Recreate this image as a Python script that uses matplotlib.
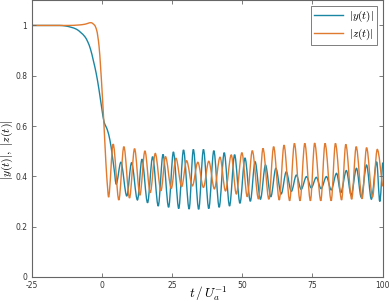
import matplotlib
matplotlib.use("Agg")
import matplotlib.pyplot as plt
from matplotlib.path import Path
from matplotlib.patches import PathPatch
from matplotlib.lines import Line2D
import numpy as np

# |y(t)| : pre-quench decay, then oscillation extrema
y_t = [-25, -15, -13, -11, -9, -7.5, -6, -5, -4, -3, -2, -1, 0, 0.8, 2.0, 2.9, 3.8, 4.6, 5.1,
       6.8, 8.9, 10.6, 12.7, 14.3, 16.3, 18.1, 20.1, 21.8, 23.8, 25.5, 27.4, 29.1, 31.1,
       32.6, 34.5, 36.2, 38.1, 39.9, 41.8, 43.6, 45.5, 47.3, 49.2, 51.0, 52.9, 54.6, 56.5,
       58.3, 60.2, 62.0, 63.9, 65.7, 67.5, 69.3, 71.0, 72.9, 74.6, 76.4, 78.1, 80.0, 81.7,
       83.6, 85.1, 87.1, 88.8, 90.7, 92.4, 94.3, 96.0, 97.9, 99.0, 100]
y_v = [1.0, 1.0, 0.998, 0.993, 0.985, 0.972, 0.955, 0.935, 0.905, 0.86, 0.81, 0.745, 0.67,
       0.617, 0.584, 0.544, 0.478, 0.41, 0.368,
       0.456, 0.322, 0.454, 0.306, 0.468, 0.295, 0.478, 0.282, 0.487, 0.277, 0.497, 0.272,
       0.505, 0.270, 0.507, 0.269, 0.507, 0.272, 0.502, 0.277, 0.494, 0.282, 0.486, 0.293,
       0.473, 0.301, 0.458, 0.309, 0.445, 0.319, 0.432, 0.330, 0.418, 0.340, 0.405, 0.348,
       0.399, 0.354, 0.396, 0.351, 0.399, 0.346, 0.412, 0.335, 0.423, 0.325, 0.432, 0.317,
       0.445, 0.309, 0.458, 0.30, 0.455]

# |z(t)|
z_t = [-25, -12, -8, -6, -3.9, -2.5, -1.8, -1.0, -0.4, 0.2, 0.7, 1.2, 1.7, 2.1, 2.4,
       4.05, 6.07, 7.86, 9.88, 11.67, 13.57, 15.36, 17.26, 19.05, 21.07, 22.7, 24.76, 26.4,
       28.45, 30.2, 32.26, 34.2, 36.2, 38.1, 40.1, 42.1, 44.05, 46.1, 47.9, 49.9, 51.8,
       53.6, 55.8, 57.4, 59.5, 61.2, 63.2, 64.9, 66.9, 68.6, 70.6, 72.3, 74.3, 75.8, 78.0,
       79.5, 81.7, 83.2, 85.4, 86.9, 89.0, 90.6, 92.7, 94.3, 96.4, 98.1, 100]
z_v = [1.0, 1.0, 1.002, 1.005, 1.011, 1.0, 0.98, 0.92, 0.83, 0.72, 0.62, 0.51, 0.41, 0.35,
       0.317,
       0.528, 0.306, 0.518, 0.314, 0.510, 0.325, 0.501, 0.335, 0.491, 0.343, 0.478, 0.352,
       0.472, 0.359, 0.462, 0.362, 0.456, 0.356, 0.460, 0.350, 0.476, 0.342, 0.485, 0.330,
       0.494, 0.319, 0.502, 0.310, 0.511, 0.309, 0.518, 0.306, 0.524, 0.303, 0.531, 0.303,
       0.531, 0.303, 0.532, 0.303, 0.531, 0.303, 0.531, 0.306, 0.527, 0.309, 0.518, 0.311,
       0.514, 0.317, 0.507, 0.36]

x_ticks = [-25, 0, 25, 50, 75, 100]
y_ticks = [0, 0.2, 0.4, 0.6, 0.8, 1]
y_tick_labels = ["0", "0.2", "0.4", "0.6", "0.8", "1"]


def smooth_path(xs, ys):
    """Bezier path through the points with monotone (Fritsch-Carlson) tangents."""
    x = np.asarray(xs, float)
    y = np.asarray(ys, float)
    h = np.diff(x)
    d = np.diff(y) / h
    m = np.zeros_like(y)
    m[0], m[-1] = d[0], d[-1]
    for i in range(1, len(x) - 1):
        if d[i - 1] * d[i] <= 0:
            m[i] = 0.0
        else:
            w1 = 2 * h[i] + h[i - 1]
            w2 = h[i] + 2 * h[i - 1]
            m[i] = (w1 + w2) / (w1 / d[i - 1] + w2 / d[i])
    verts = [(x[0], y[0])]
    codes = [Path.MOVETO]
    for i in range(len(x) - 1):
        verts += [(x[i] + h[i] / 3, y[i] + m[i] * h[i] / 3),
                  (x[i + 1] - h[i] / 3, y[i + 1] - m[i + 1] * h[i] / 3),
                  (x[i + 1], y[i + 1])]
        codes += [Path.CURVE4] * 3
    return Path(verts, codes)


plt.rcParams['mathtext.fontset'] = 'cm'

fig = plt.figure(figsize=(3.9, 3.07), dpi=100)
ax = fig.add_axes([0.081, 0.098, 0.9, 0.901])

c_y = '#1a86a3'
c_z = '#e07a2e'
ax.add_patch(PathPatch(smooth_path(y_t, y_v), facecolor='none', edgecolor=c_y, lw=1.0))
ax.add_patch(PathPatch(smooth_path(z_t, z_v), facecolor='none', edgecolor=c_z, lw=1.0))

ax.set_xlim(-25, 100)
ax.set_ylim(0, 1.1)
ax.set_xticks(x_ticks)
ax.set_xticklabels([str(v) for v in x_ticks])
ax.set_yticks(y_ticks)
ax.set_yticklabels(y_tick_labels)

axc = '#666666'
for s in ax.spines.values():
    s.set_color(axc)
    s.set_linewidth(0.8)
ax.tick_params(direction='in', length=3, width=0.6, colors=axc, labelcolor='#333333',
               labelsize=5.5, top=True, right=True, pad=3)

ax.set_xlabel(r'$t\,/\,U_a^{-1}$', fontsize=9.5, va='center')
ax.xaxis.set_label_coords(0.505, -0.06)
ax.set_ylabel(r'$|y(t)|,\ |z(t)|$', fontsize=8.5, va='center')
ax.yaxis.set_label_coords(-0.069, 0.46)

handles = [Line2D([], [], color=c_y, lw=1.0), Line2D([], [], color=c_z, lw=1.0)]
leg = ax.legend(handles, [r'$|y(t)|$', r'$|z(t)|$'], loc='upper right', fontsize=8,
                frameon=True, fancybox=False, handlelength=2.6, borderpad=0.3,
                labelspacing=0.2, handletextpad=0.5, borderaxespad=0.5)
leg.get_frame().set_edgecolor('#444444')
leg.get_frame().set_linewidth(0.6)

fig.savefig('out.png', dpi=100)
